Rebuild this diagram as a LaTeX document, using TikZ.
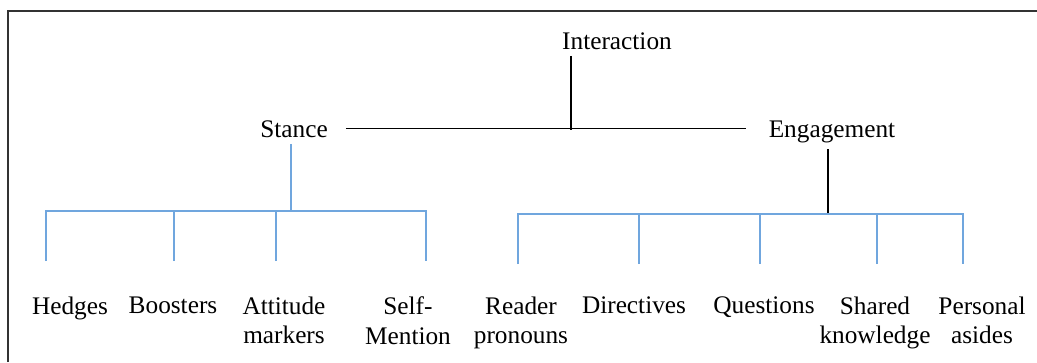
\documentclass[tikz,border=0pt]{standalone}
\usepackage{fontspec}
\setmainfont{Liberation Serif}
\usepackage{tikz}
\definecolor{branch}{RGB}{112,166,222}
\tikzset{leaf/.style={anchor=north,align=center}}

\begin{document}
\begin{tikzpicture}[x=0.02cm,y=-0.02cm,line width=0.8pt,font=\fontsize{14.4}{17}\selectfont]
\useasboundingbox (0,0) rectangle (1037,362);
\draw[line width=1.1pt,black!80] (8,362) -- (8,11) -- (1037,11);
% top level
\node[anchor=base] (inter) at (617,49) {Interaction};
\node[anchor=base] (stance) at (294,137) {Stance};
\node[anchor=base] (engage) at (832,137) {Engagement};
\coordinate (mid) at (571,130);
\draw[shorten <=0.23cm,shorten >=0.33cm] (stance.east) -- (stance.east -| engage.west);
\draw (inter.south -| mid) -- (mid);
% stance branch
\coordinate (sj) at (291,211);
\coordinate (s1) at (46,261);
\coordinate (s2) at (174,261);
\coordinate (s3) at (276,261);
\coordinate (s4) at (426,261);
\begin{scope}[branch]
\draw (stance.south -| sj) -- (sj);
\draw (s1) |- (sj) -| (s4);
\draw (s2) -- (s2 |- sj);
\draw (s3) -- (s3 |- sj);
\end{scope}
% engagement branch
\coordinate (ej) at (828,214);
\coordinate (e1) at (518,264);
\coordinate (e2) at (639,264);
\coordinate (e3) at (760,264);
\coordinate (e4) at (877,264);
\coordinate (e5) at (963,264);
\draw (engage.south -| ej) -- (ej);
\begin{scope}[branch]
\draw (e1) |- (ej) -| (e5);
\draw (e2) -- (e2 |- ej);
\draw (e3) -- (e3 |- ej);
\draw (e4) -- (e4 |- ej);
\end{scope}
% leaves
\node[leaf] (hedges) at (70,290) {Hedges};
\node[leaf] (boosters) at (173,290) {Boosters};
\node[leaf] (attitude) at (284,290) {Attitude\\markers};
\node[leaf] (self) at (408,290) {Self-\\Mention};
\node[leaf] (reader) at (521,290) {Reader\\pronouns};
\node[leaf] (directives) at (634,290) {Directives};
\node[leaf] (questions) at (764,290) {Questions};
\node[leaf] (shared) at (875,290) {Shared\\knowledge};
\node[leaf] (personal) at (982,290) {Personal\\asides};
\end{tikzpicture}
\end{document}
